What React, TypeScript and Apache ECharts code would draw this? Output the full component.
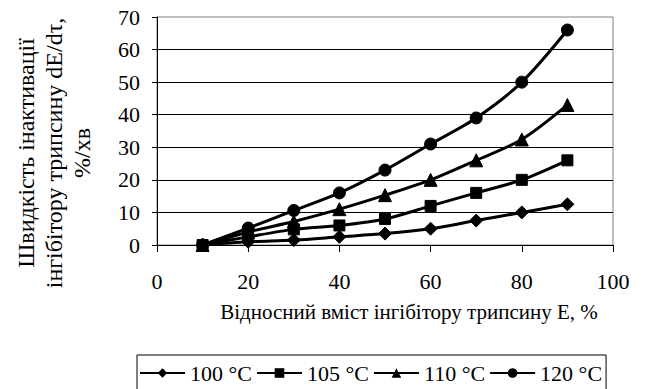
import React, { useEffect, useRef } from "react";
import * as echarts from "echarts";

const xValues = [10, 20, 30, 40, 50, 60, 70, 80, 90];
const seriesNames = ["100 °C", "105 °C", "110 °C", "120 °C"];
const s100 = [0, 1, 1.5, 2.5, 3.5, 5, 7.5, 10, 12.5];
const s105 = [0, 2.5, 4.8, 6, 8, 12, 16, 20, 26];
const s110 = [0, 4, 7.2, 11, 15.3, 20, 26, 32.4, 43];
const s120 = [0, 5.2, 10.6, 16, 23, 31, 39, 50, 66];
const symbols = ["diamond", "rect", "triangle", "circle"];
const symbolSizes = [13, 11, 13, 12];
const yTitle = "Швидкість інактивації\nінгібітору трипсину dE/dτ,\n%/хв";
const xTitle = "Відносний вміст інгібітору трипсину Е, %";

const FONT = "Liberation Serif";

export default function App() {
  const ref = useRef<HTMLDivElement>(null);
  useEffect(() => {
    document.body.style.margin = "0";
    const chart = echarts.init(ref.current!, null, { renderer: "svg" });
    const all = [s100, s105, s110, s120];
    chart.setOption({
      animation: false,
      textStyle: { fontFamily: FONT, color: "#000" },
      grid: {
        left: 157,
        right: 32,
        top: 17,
        bottom: 144,
        show: true,
        borderColor: "#808080",
        borderWidth: 1,
      },
      xAxis: {
        type: "value",
        min: 0,
        max: 100,
        interval: 20,
        axisLine: { show: true, lineStyle: { color: "#000", width: 1 } },
        axisTick: { show: true, inside: false, length: 7, lineStyle: { color: "#000" } },
        axisLabel: { fontSize: 22, fontFamily: FONT, color: "#000", margin: 25 },
        splitLine: { show: false },
      },
      yAxis: {
        type: "value",
        min: 0,
        max: 70,
        interval: 10,
        axisLine: { show: true, lineStyle: { color: "#000", width: 1 } },
        axisTick: { show: true, inside: false, length: 5, lineStyle: { color: "#000" } },
        axisLabel: { fontSize: 22, fontFamily: FONT, color: "#000", margin: 17 },
        splitLine: { show: true, showMaxLine: false, lineStyle: { color: "#000", width: 1 } },
      },
      legend: {
        data: seriesNames,
        left: 137,
        top: 355,
        orient: "horizontal",
        padding: [7, 4, 20, 2],
        itemGap: 4,
        itemWidth: 45,
        itemHeight: 12,
        borderColor: "#000",
        borderWidth: 1,
        textStyle: { fontSize: 22, fontFamily: FONT, color: "#000" },
      },
      graphic: [
        {
          type: "text",
          x: 54,
          y: 153,
          rotation: Math.PI / 2,
          style: {
            text: yTitle,
            fontSize: 24,
            fontFamily: FONT,
            fill: "#000",
            align: "center",
            verticalAlign: "middle",
            lineHeight: 28,
          },
        },
        {
          type: "text",
          x: 409,
          y: 312,
          style: {
            text: xTitle,
            fontSize: 21,
            fontFamily: FONT,
            fill: "#000",
            align: "center",
            verticalAlign: "middle",
          },
        },
      ],
      series: all.map((vals, i) => ({
        name: seriesNames[i],
        type: "line",
        smooth: 0.3,
        data: xValues.map((x, j) => [x, vals[j]]),
        symbol: symbols[i],
        symbolSize: symbolSizes[i],
        showSymbol: true,
        lineStyle: { color: "#000", width: 3 },
        itemStyle: { color: "#000", borderColor: "#000" },
        z: 2 + i,
      })),
    });
    return () => chart.dispose();
  }, []);
  return <div ref={ref} style={{ width: 645, height: 389 }} />;
}
